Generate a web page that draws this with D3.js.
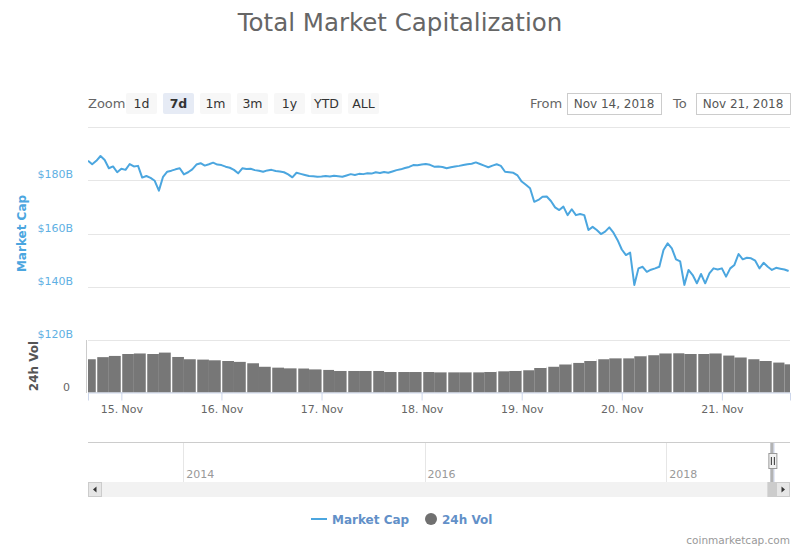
<!DOCTYPE html>
<html>
<head>
<meta charset="utf-8">
<script src="https://d3js.org/d3.v7.min.js"></script>
<style>
  body { margin: 0; background: #fff; }
  text { font-family: "DejaVu Sans", Verdana, sans-serif; }
</style>
</head>
<body>
<script>
// hourly market cap (billions USD), starting Nov 14 2018 16:00
const mcapStart = new Date(2018, 10, 14, 16, 0);
const mcapValues = [
  187.3, 186.0, 187.3, 189.1, 187.6, 184.5, 185.2, 183.0, 184.3, 183.9, 186.1, 185.2,
  185.4, 181.0, 181.6, 180.9, 179.8, 176.1, 181.3, 183.2, 183.6, 184.1, 184.5, 182.2,
  183.0, 184.1, 185.9, 186.4, 185.5, 186.0, 186.6, 185.9, 185.7, 185.1, 184.7, 183.9,
  182.6, 184.5, 184.2, 184.3, 183.8, 183.6, 183.2, 183.7, 183.9, 183.5, 183.3, 183.0,
  182.2, 181.1, 182.8, 182.4, 182.0, 181.6, 181.5, 181.3, 181.4, 181.6, 181.4, 181.7,
  181.5, 181.3, 181.8, 182.3, 182.0, 182.4, 182.3, 182.6, 182.5, 183.0, 182.7, 183.1,
  182.8, 183.3, 183.8, 184.1, 184.6, 185.0, 185.7, 185.6, 185.9, 186.1, 185.8, 185.1,
  185.2, 185.0, 184.5, 184.9, 185.2, 185.4, 185.7, 186.0, 186.2, 186.7, 186.1, 185.5,
  184.9, 185.5, 186.0, 185.4, 183.2, 183.0, 182.8, 181.8, 179.5, 178.3, 177.0, 171.9,
  172.6, 173.8, 173.9, 172.2, 169.8, 168.8, 170.1, 166.9, 169.1, 166.9, 167.3, 166.9,
  161.3, 162.5, 161.3, 159.8, 160.7, 162.3, 160.3, 157.5, 154.0, 151.9, 152.8, 140.7,
  146.9, 147.5, 145.6, 146.4, 146.9, 147.5, 153.8, 156.3, 154.4, 150.3, 149.5, 140.7,
  146.3, 144.4, 141.3, 144.8, 141.3, 145.0, 146.9, 146.5, 146.9, 143.8, 146.9, 148.2,
  152.3, 150.3, 150.9, 150.7, 149.8, 146.9, 149.0, 147.5, 146.3, 147.1, 146.8, 146.5, 145.9
];

// 24h volume (billions USD), 3-hour buckets starting Nov 14 2018 15:00
const volStart = new Date(2018, 10, 14, 15, 0);
const volValues = [
  19.0, 20.2, 20.9, 22.0, 22.3, 22.0, 22.8, 20.3, 19.0, 18.8, 18.4, 18.0,
  17.5, 16.7, 14.7, 14.2, 13.8, 13.7, 13.2, 12.9, 12.3, 12.3, 12.3, 12.3,
  11.7, 11.7, 11.7, 11.7, 11.5, 11.5, 11.5, 11.5, 11.7, 12.1, 12.3, 12.7,
  14.0, 14.7, 16.0, 16.9, 18.0, 19.0, 19.5, 19.5, 20.7, 21.3, 22.3, 22.4,
  22.0, 22.0, 22.3, 21.1, 20.0, 19.0, 18.0, 17.1, 16.1
];

const mcapTicks = [120, 140, 160, 180, 200];
const mcapTickLabels = ["$120B", "$140B", "$160B", "$180B", ""];
const rangeButtons = ["1d", "7d", "1m", "3m", "1y", "YTD", "ALL"];
const selectedButton = "7d";
const navYears = [2014, 2016, 2018];

const mcap = mcapValues.map((v, i) => ({ t: d3.timeHour.offset(mcapStart, i), v: v }));
const vol = volValues.map((v, i) => ({ t: d3.timeHour.offset(volStart, i * 3), v: v }));

const W = 800, H = 550;
const left = 88, right = 790;
const lineColor = "#4ba6df";

const svg = d3.select("body").append("svg")
    .attr("width", W).attr("height", H);

// title
svg.append("text")
    .attr("x", W / 2).attr("y", 31)
    .attr("text-anchor", "middle")
    .attr("fill", "#666")
    .style("font-size", "24.5px")
    .text("Total Market Capitalization");

// range selector
svg.append("text")
    .attr("x", left).attr("y", 108)
    .attr("fill", "#666").style("font-size", "13px")
    .text("Zoom");

let btn = svg.append("g").selectAll("g")
    .data(rangeButtons)
    .join("g")
    .attr("transform", (d, i) => `translate(${126 + i * 37},93)`);
btn.append("rect")
    .attr("width", 31).attr("height", 21).attr("rx", 2)
    .attr("fill", d => d === selectedButton ? "#e6ebf5" : "#f7f7f7");
btn.append("text")
    .attr("x", 15.5).attr("y", 15)
    .attr("text-anchor", "middle")
    .attr("fill", "#333")
    .style("font-size", "12.5px")
    .style("font-weight", d => d === selectedButton ? "bold" : "normal")
    .text(d => d);

// date inputs
function dateBox(label, lx, bx, value) {
    svg.append("text").attr("x", lx).attr("y", 108)
        .attr("fill", "#666").style("font-size", "13px").text(label);
    svg.append("rect").attr("x", bx + 0.5).attr("y", 93.5)
        .attr("width", 94).attr("height", 21)
        .attr("fill", "#fff").attr("stroke", "#ccc");
    svg.append("text").attr("x", bx + 47).attr("y", 108)
        .attr("text-anchor", "middle")
        .attr("fill", "#555").style("font-size", "12px").text(value);
}
dateBox("From", 530, 567, "Nov 14, 2018");
dateBox("To", 673, 696, "Nov 21, 2018");

// scales
const x = d3.scaleTime()
    .domain([new Date(2018, 10, 14, 16, 0), new Date(2018, 10, 21, 16, 20)])
    .range([left, right]);
const y = d3.scaleLinear().domain([120, 200]).range([340, 127]);
const yv = d3.scaleLinear().domain([0, 30]).range([392.5, 340]);

svg.append("clipPath").attr("id", "plot")
    .append("rect").attr("x", left).attr("y", 120)
    .attr("width", right - left).attr("height", 280);

// gridlines and y labels
svg.append("g").selectAll("line")
    .data(mcapTicks)
    .join("line")
    .attr("x1", left).attr("x2", right)
    .attr("y1", d => Math.round(y(d)) + 0.5).attr("y2", d => Math.round(y(d)) + 0.5)
    .attr("stroke", "#e6e6e6");

svg.append("g").selectAll("text")
    .data(mcapTicks)
    .join("text")
    .attr("x", 73).attr("y", d => y(d) - 2)
    .attr("text-anchor", "end")
    .attr("fill", "#5fb0e3")
    .style("font-size", "11px")
    .text((d, i) => mcapTickLabels[i]);

svg.append("text")
    .attr("transform", `translate(26,${y(160)}) rotate(-90)`)
    .attr("text-anchor", "middle")
    .attr("fill", lineColor)
    .style("font-size", "12px").style("font-weight", "bold")
    .text("Market Cap");

// volume pane
let volG = svg.append("g").attr("clip-path", "url(#plot)");
volG.selectAll("rect")
    .data(vol)
    .join("rect")
    .attr("x", d => x(d.t))
    .attr("width", d => x(d3.timeHour.offset(d.t, 3)) - x(d.t))
    .attr("y", d => yv(d.v))
    .attr("height", d => yv(0) - yv(d.v))
    .attr("fill", "#777");
volG.selectAll("line")
    .data(x.ticks(d3.timeHour.every(6)))
    .join("line")
    .attr("x1", d => Math.round(x(d)) + 0.5).attr("x2", d => Math.round(x(d)) + 0.5)
    .attr("y1", 341).attr("y2", yv(0))
    .attr("stroke", "#fff").attr("stroke-width", 1.5);

svg.append("line")
    .attr("x1", 86.5).attr("x2", 86.5).attr("y1", 340).attr("y2", 393)
    .attr("stroke", "#ccc");
svg.append("text")
    .attr("x", 70).attr("y", 391)
    .attr("text-anchor", "end")
    .attr("fill", "#666").style("font-size", "11px")
    .text("0");
svg.append("text")
    .attr("transform", `translate(38,366) rotate(-90)`)
    .attr("text-anchor", "middle")
    .attr("fill", "#555")
    .style("font-size", "12px").style("font-weight", "bold")
    .text("24h Vol");

// market cap line
svg.append("path")
    .datum(mcap)
    .attr("clip-path", "url(#plot)")
    .attr("fill", "none")
    .attr("stroke", lineColor)
    .attr("stroke-width", 2)
    .attr("stroke-linejoin", "round")
    .attr("d", d3.line().x(d => x(d.t)).y(d => y(d.v)));

// x axis
const xAxis = svg.append("g")
    .attr("transform", "translate(0,392.5)")
    .call(d3.axisBottom(x)
        .ticks(d3.timeDay.every(1))
        .tickFormat(d3.timeFormat("%-d. %b"))
        .tickSizeOuter(0).tickSize(8).tickPadding(5));
xAxis.select(".domain").attr("stroke", "#ccd6eb");
xAxis.selectAll(".tick line").attr("stroke", "#ccd6eb");
xAxis.selectAll(".tick text").attr("fill", "#666")
    .style("font-size", "11px").style("font-family", "DejaVu Sans");

// navigator
const xn = d3.scaleTime()
    .domain([new Date(2013, 2, 19), new Date(2019, 0, 10)])
    .range([left, right]);
svg.append("line").attr("x1", left).attr("x2", right)
    .attr("y1", 442.5).attr("y2", 442.5).attr("stroke", "#ccc");
svg.append("g").selectAll("line")
    .data(navYears)
    .join("line")
    .attr("x1", d => Math.round(xn(new Date(d, 0, 1))) + 0.5)
    .attr("x2", d => Math.round(xn(new Date(d, 0, 1))) + 0.5)
    .attr("y1", 443).attr("y2", 482)
    .attr("stroke", "#e6e6e6");
svg.append("g").selectAll("text")
    .data(navYears)
    .join("text")
    .attr("x", d => xn(new Date(d, 0, 1)) + 3).attr("y", 478)
    .attr("fill", "#999").style("font-size", "11px")
    .text(d => d);

// selected range in navigator
const selX0 = xn(x.domain()[0]), selX1 = xn(x.domain()[1]);
svg.append("rect")
    .attr("x", selX0 - 1).attr("y", 443)
    .attr("width", Math.max(selX1 - selX0, 2) + 2).attr("height", 39)
    .attr("fill", "rgba(102,133,194,0.25)");
svg.append("line")
    .attr("x1", selX0 + 0.5).attr("x2", selX0 + 0.5).attr("y1", 443).attr("y2", 482)
    .attr("stroke", "#b3b3b3").attr("stroke-width", 3);

// scrollbar
svg.append("rect").attr("x", left).attr("y", 482)
    .attr("width", right - left).attr("height", 15).attr("fill", "#f2f2f2");
svg.append("rect").attr("x", selX0 - 4).attr("y", 482)
    .attr("width", 9).attr("height", 15).attr("fill", "#ccc");
function scrollBtn(bx, dir) {
    svg.append("rect").attr("x", bx + 0.5).attr("y", 482.5)
        .attr("width", 13).attr("height", 14)
        .attr("fill", "#e6e6e6").attr("stroke", "#ccc");
    const cx = bx + 7, cy = 489.5;
    svg.append("path")
        .attr("d", dir < 0
            ? `M${cx + 1.5},${cy - 3}L${cx - 2},${cy}L${cx + 1.5},${cy + 3}Z`
            : `M${cx - 1.5},${cy - 3}L${cx + 2},${cy}L${cx - 1.5},${cy + 3}Z`)
        .attr("fill", "#333");
}
scrollBtn(left, -1);
scrollBtn(right - 14, 1);

// navigator handle
const hx = selX0 + 2;
svg.append("rect").attr("x", hx - 4.5).attr("y", 453.5)
    .attr("width", 8).attr("height", 15)
    .attr("fill", "#f2f2f2").attr("stroke", "#999");
[-1.5, 1.5].forEach(o => svg.append("line")
    .attr("x1", hx + o - 0.5).attr("x2", hx + o - 0.5)
    .attr("y1", 457).attr("y2", 465).attr("stroke", "#333"));

// legend
const legendColor = "#6290c8";
svg.append("line").attr("x1", 311).attr("x2", 327)
    .attr("y1", 519).attr("y2", 519)
    .attr("stroke", lineColor).attr("stroke-width", 2);
svg.append("text").attr("x", 332).attr("y", 524)
    .attr("fill", legendColor)
    .style("font-size", "12px").style("font-weight", "bold")
    .text("Market Cap");
svg.append("circle").attr("cx", 431).attr("cy", 519).attr("r", 6)
    .attr("fill", "#707070");
svg.append("text").attr("x", 442).attr("y", 524)
    .attr("fill", legendColor)
    .style("font-size", "12px").style("font-weight", "bold")
    .text("24h Vol");

// credits
svg.append("text").attr("x", 790).attr("y", 544)
    .attr("text-anchor", "end")
    .attr("fill", "#999").style("font-size", "10.5px")
    .text("coinmarketcap.com");
</script>
</body>
</html>
